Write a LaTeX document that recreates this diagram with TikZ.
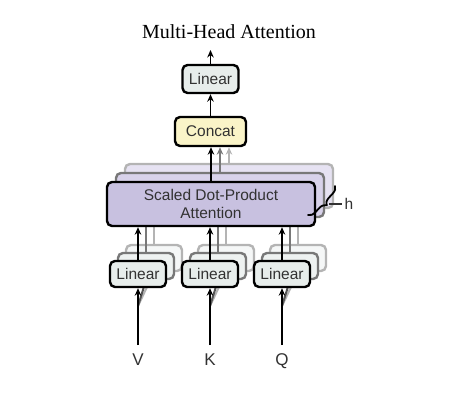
\documentclass[tikz,border=0pt]{standalone}
\usepackage{fontspec}
\setmainfont{Liberation Serif}
\setsansfont{Liberation Sans}
\usetikzlibrary{arrows.meta,decorations.pathreplacing}
\definecolor{linfill}{RGB}{231,237,235}
\definecolor{linfillb}{RGB}{238,242,241}
\definecolor{linfillc}{RGB}{245,247,247}
\definecolor{catfill}{RGB}{250,244,200}
\definecolor{attfill}{RGB}{200,193,224}
\definecolor{attfillb}{RGB}{216,210,234}
\definecolor{attfillc}{RGB}{230,226,242}
\definecolor{edgeb}{RGB}{120,120,120}
\definecolor{edgec}{RGB}{180,180,180}
\definecolor{txt}{RGB}{50,50,50}
\tikzset{
  box/.style={draw=black, rounded corners=5pt, line width=2.4pt, text=txt,
    font=\sffamily\fontsize{15.5}{18}\selectfont, inner sep=0pt, align=center},
  linbox/.style={box, fill=linfill, minimum width=56pt, minimum height=26pt},
  layerb/.style={draw=edgeb, text opacity=0},
  layerc/.style={draw=edgec, text opacity=0},
  arr/.style={line width=1.8pt, -{Stealth[length=7.5pt,width=6.5pt]}},
  lbl/.style={font=\sffamily\fontsize{17}{18}\selectfont, text=txt,
    text height=12pt, text depth=0pt, inner sep=0pt, outer ysep=8pt},
}
\begin{document}
\begin{tikzpicture}[x=1pt,y=-1pt]
\useasboundingbox (0,0) rectangle (466,401);

% title
\node[font=\fontsize{20}{24}\selectfont] (title) at (229,31.5) {Multi-Head Attention};

% ---- layer 3 (back) ----
\node[box, layerc, fill=attfillc, minimum width=208pt, minimum height=44pt] (sdpac) at (229,186) {};
\foreach \n/\x in {1/138,2/210,3/282}{
  \node[linbox, layerc, fill=linfillc] (lin\n c) at (\x+16,258) {};
  \draw[arr, edgec] (lin\n c.north) -- (lin\n c.north |- sdpac.south);
}
% ---- layer 2 ----
\node[box, layerb, fill=attfillb, minimum width=208pt, minimum height=44pt] (sdpab) at (220,195) {};
\foreach \n/\x in {1/138,2/210,3/282}{
  \node[linbox, layerb, fill=linfillb] (lin\n b) at (\x+8,266) {};
  \draw[arr, edgeb] (lin\n b.north) -- (lin\n b.north |- sdpab.south);
}
% diagonal back inputs
\foreach \n/\x in {1/138,2/210,3/282}{
  \coordinate (in\n) at (\x,306);
  \draw[line width=2pt, edgec] (in\n) -- (lin\n c.south);
  \draw[line width=2pt, edgeb!70!black] (in\n) -- (lin\n b.south);
}
% ---- front ----
\node[box, fill=attfill, minimum width=208pt, minimum height=44pt] (sdpa) at (211,204) {Scaled Dot-Product\\Attention};
\foreach \n/\x/\lab in {1/138/V,2/210/K,3/282/Q}{
  \node[linbox] (lin\n) at (\x,274) {Linear};
  \node[lbl] (in\lab) at (\x,359) {\lab};
  \draw[arr] (in\lab.north) -- (lin\n.south);
  \draw[arr] (lin\n.north) -- (lin\n.north |- sdpa.south);
}

% concat and output linear
\node[box, fill=catfill, minimum width=71pt, minimum height=29pt] (concat) at (210.5,131.5) {Concat};
\node[linbox, minimum height=28pt] (linout) at (210.5,79) {Linear};
\coordinate (out) at (210.5,50);

\draw[arr, edgec] (sdpac.north) -- (sdpac.north |- concat.south);
\draw[arr, edgeb] (sdpab.north) -- (sdpab.north |- concat.south);
\draw[arr] (sdpa.north) -- (sdpa.north |- concat.south);
\draw[arr] (concat.north) -- (linout.south);
\draw[arr] (linout.north) -- (out);

% h brace
\draw[line width=1.8pt, line cap=round, decorate, decoration={brace, amplitude=7pt}] (335,186) -- (308,215);
\node[font=\sffamily\fontsize{15.5}{18}\selectfont, text=txt, inner sep=2pt] (h) at (349,204) {h};
\coordinate (htip) at (329,204);
\draw[line width=1.2pt, txt] (htip) -- (h.west);
\end{tikzpicture}
\end{document}
